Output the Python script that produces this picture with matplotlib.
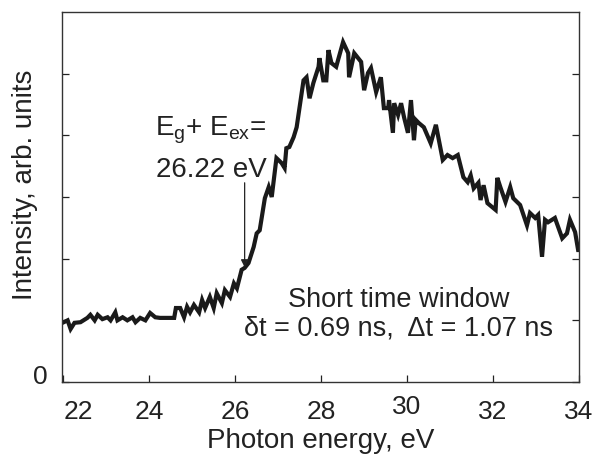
import matplotlib.pyplot as plt
from matplotlib.transforms import ScaledTranslation

# Photoluminescence spectrum, short time window
energy = [22.01, 22.10, 22.17, 22.26, 22.40, 22.56, 22.63, 22.73, 22.80, 22.91,
          23.03, 23.10, 23.21, 23.26, 23.38, 23.49, 23.61, 23.68, 23.79, 23.91,
          24.02, 24.14, 24.25, 24.42, 24.58, 24.62, 24.72, 24.81, 24.88, 24.95,
          25.04, 25.16, 25.23, 25.30, 25.41, 25.50, 25.57, 25.69, 25.76, 25.88,
          25.97, 26.04, 26.15, 26.22, 26.31, 26.43, 26.50, 26.57, 26.69, 26.78,
          26.85, 26.96, 27.08, 27.15, 27.19, 27.26, 27.36, 27.43, 27.50, 27.59,
          27.66, 27.73, 27.82, 27.94, 27.96, 28.05, 28.12, 28.17, 28.24, 28.35,
          28.51, 28.63, 28.65, 28.77, 28.86, 28.93, 29.00, 29.09, 29.16, 29.28,
          29.39, 29.46, 29.56, 29.58, 29.67, 29.70, 29.79, 29.86, 29.93, 30.02,
          30.09, 30.16, 30.20, 30.27, 30.39, 30.55, 30.67, 30.83, 30.94, 31.06,
          31.18, 31.31, 31.41, 31.48, 31.55, 31.66, 31.71, 31.78, 31.87, 32.06,
          32.10, 32.17, 32.29, 32.40, 32.47, 32.63, 32.79, 32.86, 32.98, 33.05,
          33.14, 33.21, 33.28, 33.44, 33.61, 33.72, 33.79, 33.91, 33.98, 34.00]
intensity = [0.97, 1.00, 0.86, 0.96, 0.97, 1.04, 1.09, 1.00, 1.09, 1.02,
             1.05, 1.00, 1.13, 1.00, 1.05, 1.00, 1.05, 0.97, 1.04, 1.00,
             1.12, 1.05, 1.04, 1.04, 1.04, 1.20, 1.20, 1.05, 1.22, 1.13,
             1.25, 1.13, 1.33, 1.20, 1.38, 1.20, 1.44, 1.28, 1.49, 1.38,
             1.60, 1.52, 1.82, 1.85, 1.93, 2.19, 2.41, 2.46, 2.98, 3.16,
             3.00, 3.63, 3.55, 3.47, 3.79, 3.81, 3.97, 4.13, 4.46, 4.89,
             4.94, 4.60, 4.85, 5.11, 5.25, 4.89, 4.89, 5.38, 5.17, 5.11,
             5.51, 5.33, 4.94, 5.33, 5.25, 5.19, 4.73, 5.01, 5.09, 4.70,
             4.94, 4.44, 4.44, 4.57, 4.04, 4.52, 4.33, 4.52, 4.29, 4.04,
             4.57, 3.92, 4.25, 4.20, 4.13, 3.87, 4.17, 3.60, 3.68, 3.63,
             3.68, 3.32, 3.24, 3.35, 3.14, 3.23, 2.95, 3.19, 2.90, 2.79,
             3.31, 3.16, 2.92, 3.16, 2.98, 2.87, 2.54, 2.74, 2.66, 2.71,
             2.03, 2.63, 2.59, 2.66, 2.33, 2.41, 2.63, 2.43, 2.14, 2.14]

x_ticks = [22, 24, 26, 28, 30, 32, 34]
y_ticks = [0, 1, 2, 3, 4, 5]
y_tick_labels = ['0', '', '', '', '', '']

onset_energy = 26.22
arrow_top, arrow_tip = 3.23, 1.86

plt.rcParams['font.family'] = ['Liberation Sans', 'DejaVu Sans']
ink = '#222222'

fig = plt.figure(figsize=(6.05, 4.57), dpi=100)
ax = fig.add_axes([0.1025, 0.164, 0.8545, 0.81])

ax.plot(energy, intensity, color='#1a1a1a', lw=3.0, solid_joinstyle='miter')

ax.set_xlim(21.97, 34.0)
ax.set_ylim(0, 6)
ax.set_xticks(x_ticks)
ax.set_yticks(y_ticks)
ax.set_yticklabels(y_tick_labels)
ax.tick_params(direction='in', length=5, width=0.9, colors=ink,
               labelsize=19, right=True)
ax.tick_params(axis='x', pad=13)
ax.tick_params(axis='y', pad=10)
for s in ax.spines.values():
    s.set_color('#333333')
    s.set_linewidth(1.0)

labels = ax.get_xticklabels()
labels[0].set_horizontalalignment('left')
labels[4].set_transform(labels[4].get_transform()
                        + ScaledTranslation(0, 5 / 100, fig.dpi_scale_trans))
ax.get_yticklabels()[0].set_transform(
    ax.get_yticklabels()[0].get_transform()
    + ScaledTranslation(0, 8 / 100, fig.dpi_scale_trans))

ax.set_xlabel('Photon energy, eV', fontsize=20, color=ink, labelpad=3)
ax.set_ylabel('Intensity, arb. units', fontsize=20, color=ink)
ax.yaxis.set_label_coords(-0.046, 0.532)

ax.text(26.73, 4.08, r'E$_\mathregular{g}$+ E$_\mathregular{ex}$=', fontsize=20,
        color=ink, ha='right', va='center')
ax.text(26.73, 3.44, '26.22 eV', fontsize=20, color=ink, ha='right', va='center')
ax.annotate('', xy=(onset_energy, arrow_tip), xytext=(onset_energy, arrow_top),
            arrowprops=dict(arrowstyle='-|>', color=ink, lw=0.9,
                            mutation_scale=11, shrinkA=0, shrinkB=0))

ax.text(29.8, 1.33, 'Short time window', fontsize=19.5, color=ink,
        ha='center', va='center')
ax.text(29.8, 0.87, '\u03b4t = 0.69 ns,  \u0394t = 1.07 ns', fontsize=19.5,
        color=ink, ha='center', va='center')

fig.savefig('out.png', dpi=100)
